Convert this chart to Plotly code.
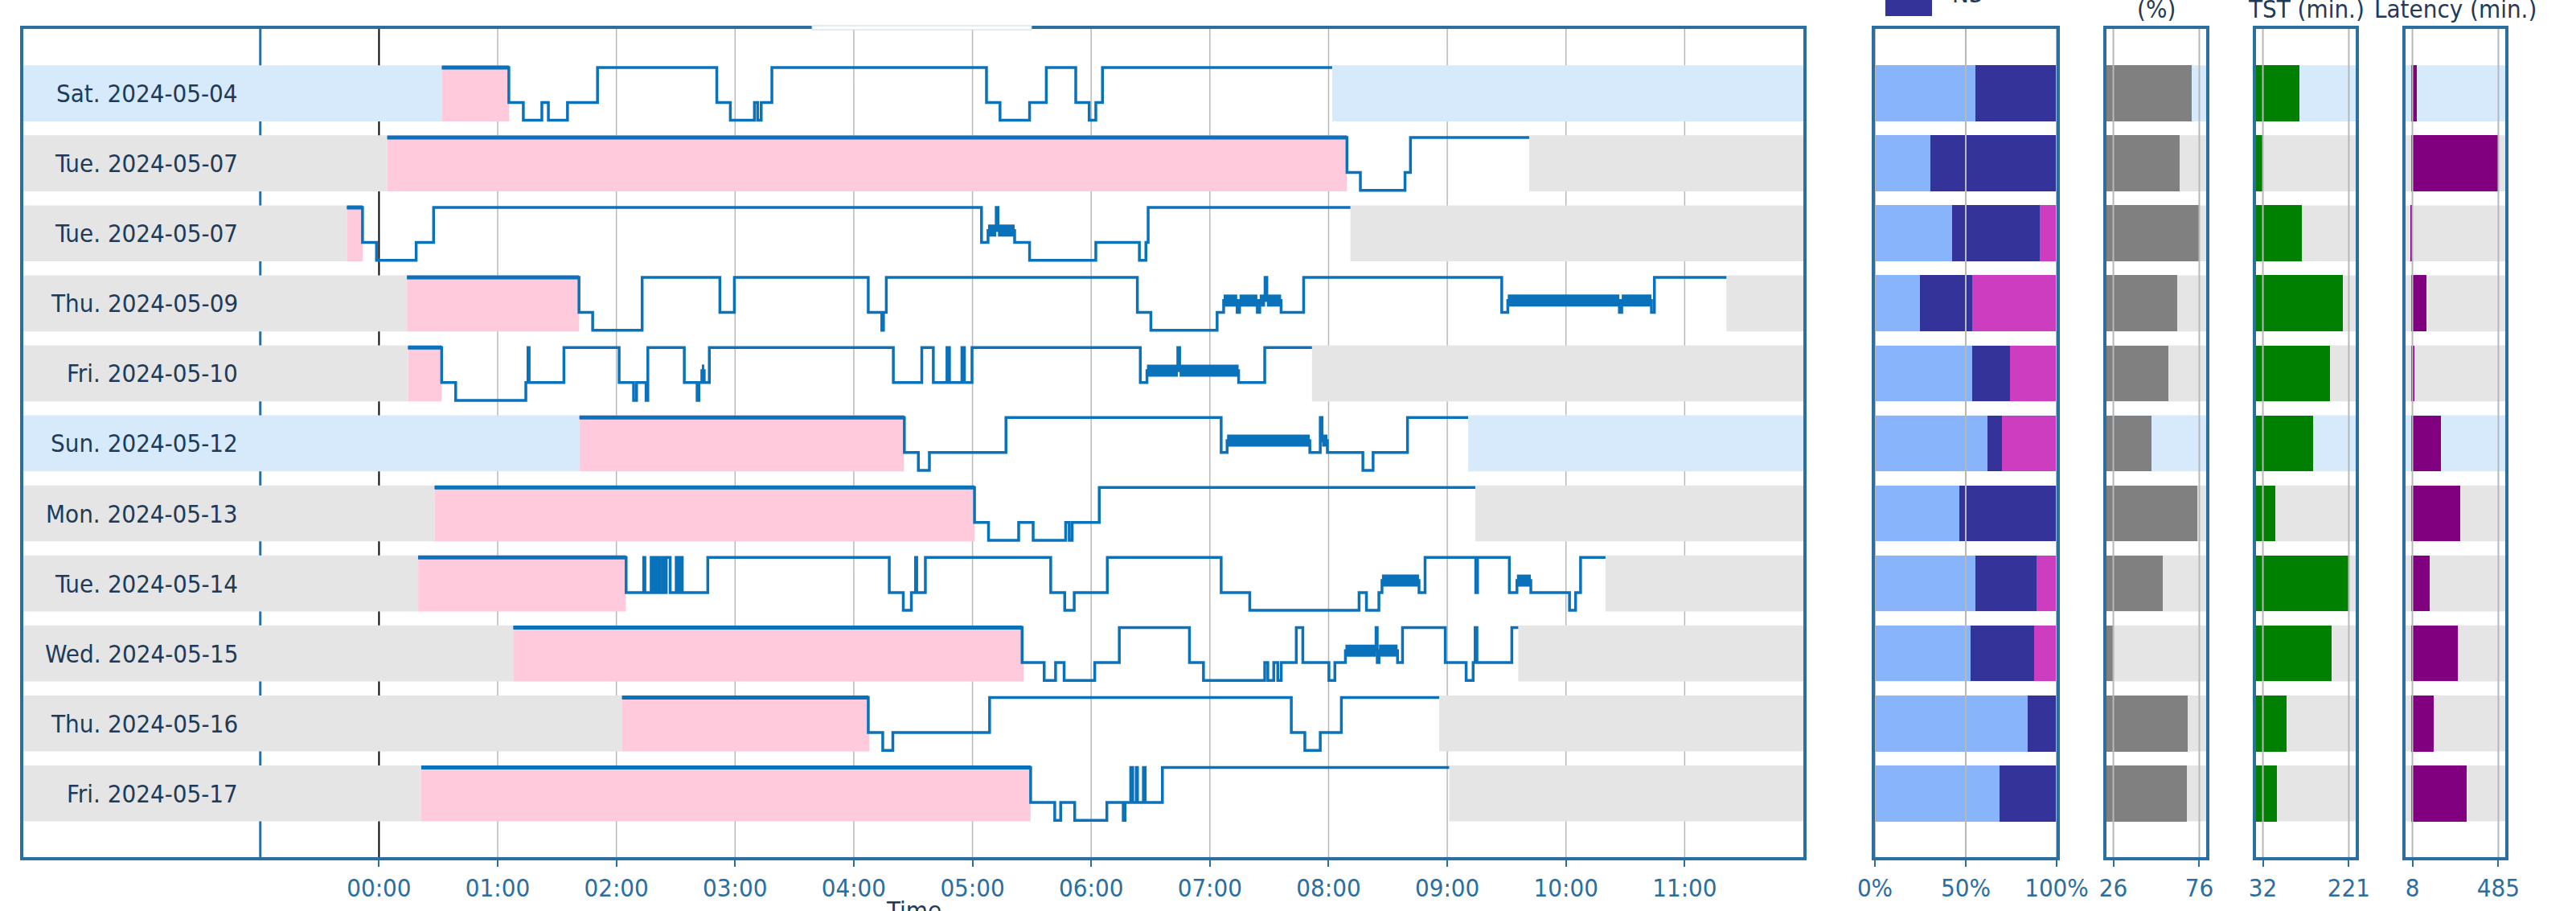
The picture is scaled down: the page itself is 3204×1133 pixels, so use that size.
import plotly.graph_objects as go

# ------------------------------------------------------------------ data
dates = ["Sat. 2024-05-04", "Tue. 2024-05-07", "Tue. 2024-05-07", "Thu. 2024-05-09",
         "Fri. 2024-05-10", "Sun. 2024-05-12", "Mon. 2024-05-13", "Tue. 2024-05-14",
         "Wed. 2024-05-15", "Thu. 2024-05-16", "Fri. 2024-05-17"]
bed_time = [0.53, 0.07, -0.27, 0.236, 0.245, 1.689, 0.469, 0.33, 1.132, 2.048, 0.356]   # hours after 00:00
latency_min = [34, 485, 8, 87, 17, 164, 273, 105, 258, 125, 308]
out_of_bed = [8.03, 9.69, 8.184, 11.352, 7.86, 9.176, 9.236, 10.333, 9.598, 8.932, 9.016]

# hypnogram transitions after going to bed: (hour, stage)  W=wake R=REM L=light D=deep
night_0504 = [(1.094, "L"), (1.216, "D"), (1.372, "L"), (1.427, "D"), (1.588, "L"), (1.841, "W"),
              (2.846, "L"), (2.96, "D"), (3.163, "L"), (3.19, "D"), (3.22, "L"), (3.31, "W"),
              (5.118, "L"), (5.232, "D"), (5.481, "L"), (5.622, "W"), (5.87, "L"), (5.983, "D"),
              (6.039, "L"), (6.095, "W")]
night_0507a = [(8.155, "L"), (8.268, "D"), (8.644, "L"), (8.69, "W")]
night_0507b = [(-0.139, "L"), (-0.021, "D"), (0.313, "L"), (0.46, "W"), (5.076, "L"), (5.131, "R"),
               (5.20, "W"), (5.215, "R"), (5.355, "L"), (5.481, "D"), (6.039, "L"), (6.406, "D"),
               (6.461, "L"), (6.48, "W")]
night_0509 = [(1.685, "L"), (1.80, "D"), (2.217, "W"), (2.872, "L"), (2.994, "W"), (4.122, "L"),
              (4.236, "D"), (4.25, "L"), (4.274, "W"), (6.389, "L"), (6.503, "D"), (7.061, "L"),
              (7.116, "R"), (7.23, "L"), (7.25, "R"), (7.40, "L"), (7.42, "R"), (7.465, "W"),
              (7.48, "R"), (7.60, "L"), (7.79, "W"), (9.459, "L"), (9.51, "R"), (10.45, "L"),
              (10.47, "R"), (10.72, "L"), (10.745, "W")]
night_0510 = [(0.528, "L"), (0.646, "D"), (1.237, "L"), (1.255, "W"), (1.265, "L"), (1.558, "W"),
              (2.023, "L"), (2.145, "D"), (2.17, "L"), (2.25, "D"), (2.265, "W"), (2.572, "L"),
              (2.68, "D"), (2.695, "L"), (2.72, "R"), (2.74, "L"), (2.783, "W"), (4.333, "L"),
              (4.573, "W"), (4.67, "L"), (4.785, "W"), (4.806, "L"), (4.911, "W"), (4.932, "L"),
              (4.996, "W"), (6.414, "L"), (6.47, "R"), (6.73, "W"), (6.745, "R"), (7.242, "L"),
              (7.462, "W")]
night_0512 = [(4.426, "L"), (4.544, "D"), (4.637, "L"), (5.282, "W"), (7.095, "L"), (7.145, "R"),
              (7.842, "L"), (7.93, "W"), (7.945, "R"), (7.99, "L"), (8.289, "D"), (8.375, "L"),
              (8.665, "W")]
night_0513 = [(5.017, "L"), (5.135, "D"), (5.389, "L"), (5.511, "D"), (5.785, "L"), (5.815, "D"),
              (5.84, "L"), (6.068, "W")]
night_0514 = [(2.082, "L"), (2.23, "W"), (2.24, "L"), (2.293, "W"), (2.303, "L"), (2.314, "W"),
              (2.322, "L"), (2.335, "W"), (2.343, "L"), (2.356, "W"), (2.366, "L"), (2.39, "W"),
              (2.40, "L"), (2.42, "W"), (2.453, "L"), (2.504, "W"), (2.525, "L"), (2.54, "W"),
              (2.555, "L"), (2.77, "W"), (4.299, "L"), (4.417, "D"), (4.485, "L"), (4.52, "W"),
              (4.53, "L"), (4.603, "W"), (5.659, "L"), (5.777, "D"), (5.857, "L"), (6.136, "W"),
              (7.095, "L"), (7.336, "D"), (8.257, "L"), (8.319, "D"), (8.424, "L"), (8.45, "R"),
              (8.762, "L"), (8.813, "W"), (9.24, "L"), (9.255, "W"), (9.523, "L"), (9.587, "R"),
              (9.704, "L"), (10.03, "D"), (10.081, "L"), (10.123, "W")]
night_0515 = [(5.418, "L"), (5.604, "D"), (5.70, "L"), (5.772, "D"), (6.03, "L"), (6.237, "W"),
              (6.828, "L"), (6.946, "D"), (7.462, "L"), (7.488, "D"), (7.538, "L"), (7.572, "D"),
              (7.601, "L"), (7.728, "W"), (7.783, "L"), (8.003, "D"), (8.053, "L"), (8.142, "R"),
              (8.40, "W"), (8.41, "L"), (8.425, "R"), (8.581, "L"), (8.623, "W"), (8.983, "L"),
              (9.159, "D"), (9.218, "L"), (9.235, "W"), (9.25, "L"), (9.544, "W")]
night_0516 = [(4.122, "L"), (4.244, "D"), (4.329, "L"), (5.144, "W"), (7.686, "L"), (7.80, "D"),
              (7.93, "L"), (8.108, "W")]
night_0517 = [(5.49, "L"), (5.693, "D"), (5.743, "L"), (5.861, "D"), (6.132, "L"), (6.27, "D"),
              (6.285, "L"), (6.333, "W"), (6.35, "L"), (6.38, "W"), (6.39, "L"), (6.44, "W"),
              (6.455, "L"), (6.6, "W")]

light_pct = [55.2, 30.5, 42.3, 24.6, 53.4, 62.0, 46.6, 55.4, 52.7, 84.2, 68.8]
deep_pct = [44.8, 69.5, 48.3, 28.8, 21.1, 7.7, 53.4, 33.6, 34.7, 15.8, 31.2]
rem_pct = [0.0, 0.0, 9.4, 46.6, 25.5, 30.3, 0.0, 11.0, 12.6, 0.0, 0.0]
efficiency_pct = [71.4, 64.2, 75.8, 63.0, 57.7, 48.1, 74.6, 54.6, 26.0, 69.0, 68.5]
tst_min = [113, 32, 117, 207, 180, 142, 60, 221, 183, 84, 62]

hour_ticks = list(range(12))
hour_labels = ["%02d:00" % h for h in hour_ticks]
pct_ticks = [0, 50, 100]
pct_labels = ["0%", "50%", "100%"]

# ------------------------------------------------------------------ style
W, H = 3204, 1133
FONT = "DejaVu Sans Condensed, DejaVu Sans, sans-serif"
FS = 31
FRAME = "#2a6f9f"
TICK = "#2b6ea0"
DARK = "#1f3b57"
HYP = "#0a72ba"
BAND_WEEKEND = "#d6eafc"
BAND_WEEKDAY = "#e5e5e5"
PINK = "#ffcadc"
GRID = "#b8b8b8"
C_LIGHT, C_DEEP, C_REM = "#88b4fc", "#333399", "#cd3dbf"
LEVEL = {"W": -0.37, "R": -0.04, "L": 0.13, "D": 0.385}
HALF = 0.4
XMIN, XMAX = -3, 12
YR = [10.91, -0.92]

nights = [night_0504, night_0507a, night_0507b, night_0509, night_0510, night_0512,
          night_0513, night_0514, night_0515, night_0516, night_0517]
n = len(dates)
rows = list(range(n))
band_col = [BAND_WEEKEND if d[:3] in ("Sat", "Sun") else BAND_WEEKDAY for d in dates]

fig = go.Figure()
shapes = []
annotations = []

# ------------------------------------------------------------------ main hypnogram panel
for i in rows:
    onset = bed_time[i] + latency_min[i] / 60.0
    for x0, x1 in ((XMIN, bed_time[i]), (out_of_bed[i], XMAX)):
        shapes.append(dict(type="rect", xref="x", yref="y", x0=x0, x1=x1, y0=i - HALF, y1=i + HALF,
                           fillcolor=band_col[i], line=dict(width=0), layer="below"))
    shapes.append(dict(type="rect", xref="x", yref="y", x0=bed_time[i], x1=onset,
                       y0=i - HALF, y1=i + HALF, fillcolor=PINK, line=dict(width=0), layer="below"))
    night = nights[i]
    xs = [bed_time[i]] + [t for t, _ in night] + [out_of_bed[i]]
    ys = [i + LEVEL["W"]] + [i + LEVEL[s] for _, s in night]
    ys.append(ys[-1])
    fig.add_trace(go.Scatter(x=xs, y=ys, mode="lines", line=dict(color=HYP, width=3.5, shape="hv"),
                             xaxis="x", yaxis="y", showlegend=False, hoverinfo="skip"))
    # latency segment (slightly heavier)
    fig.add_trace(go.Scatter(x=[bed_time[i], night[0][0]], y=[i + LEVEL["W"]] * 2, mode="lines",
                             line=dict(color=HYP, width=5), xaxis="x", yaxis="y",
                             showlegend=False, hoverinfo="skip"))
    # REM drawn as thick bars
    rx, ry = [], []
    for k, (t, s) in enumerate(night):
        if s == "R":
            t_end = night[k + 1][0] if k + 1 < len(night) else out_of_bed[i]
            rx += [t, t_end, None]
            ry += [i + LEVEL["R"], i + LEVEL["R"], None]
    if rx:
        fig.add_trace(go.Scatter(x=rx, y=ry, mode="lines", line=dict(color=HYP, width=15),
                                 xaxis="x", yaxis="y", showlegend=False, hoverinfo="skip"))
    annotations.append(dict(x=-1, y=i, xref="x", yref="y", text=dates[i], showarrow=False,
                            xanchor="right", xshift=-26, font=dict(size=FS, color=DARK)))

# hour grid lines (drawn over the bands, under the hypnograms)
for h in hour_ticks:
    shapes.append(dict(type="line", xref="x", yref="y domain", x0=h, x1=h, y0=0, y1=1,
                       line=dict(color="black" if h == 0 else GRID, width=2 if h == 0 else 1.5),
                       layer="below"))
shapes.append(dict(type="line", xref="x", yref="y domain", x0=-1, x1=-1, y0=0, y1=1,
                   line=dict(color=FRAME, width=3), layer="below"))

# ------------------------------------------------------------------ right panels
def padded(vals, p=0.08):
    lo, hi = min(vals), max(vals)
    s = hi - lo
    return [lo - p * s, hi + p * s]

panels = [
    ("x2", "y2", [0, 100], pct_ticks, pct_labels),
    ("x3", "y3", padded(efficiency_pct), [min(efficiency_pct), max(efficiency_pct)],
     ["%d" % round(min(efficiency_pct)), "%d" % round(max(efficiency_pct))]),
    ("x4", "y4", padded(tst_min), [min(tst_min), max(tst_min)],
     ["%d" % min(tst_min), "%d" % max(tst_min)]),
    ("x5", "y5", padded(latency_min), [min(latency_min), max(latency_min)],
     ["%d" % min(latency_min), "%d" % max(latency_min)]),
]

for xa, ya, rng, tv, tt in panels:
    for i in rows:
        shapes.append(dict(type="rect", xref=xa + " domain", yref=ya, x0=0, x1=1,
                           y0=i - HALF, y1=i + HALF, fillcolor=band_col[i],
                           line=dict(width=0), layer="below"))
    for v in tv:
        shapes.append(dict(type="line", xref=xa, yref=ya + " domain", x0=v, x1=v, y0=0, y1=1,
                           line=dict(color=GRID, width=2), layer="above"))

for name, vals, col in (("N1/N2", light_pct, C_LIGHT), ("N3", deep_pct, C_DEEP), ("REM", rem_pct, C_REM)):
    fig.add_trace(go.Bar(y=rows, x=vals, orientation="h", width=0.8, marker=dict(color=col, line=dict(width=0)),
                         xaxis="x2", yaxis="y2", name=name, showlegend=False, hoverinfo="skip"))
fig.add_trace(go.Bar(y=rows, x=efficiency_pct, orientation="h", width=0.8,
                     marker=dict(color="#808080", line=dict(width=0)), xaxis="x3", yaxis="y3",
                     showlegend=False, hoverinfo="skip"))
fig.add_trace(go.Bar(y=rows, x=tst_min, orientation="h", width=0.8,
                     marker=dict(color="#008000", line=dict(width=0)), xaxis="x4", yaxis="y4",
                     showlegend=False, hoverinfo="skip"))
fig.add_trace(go.Bar(y=rows, x=latency_min, orientation="h", width=0.8,
                     marker=dict(color="#800080", line=dict(width=0)), xaxis="x5", yaxis="y5",
                     showlegend=False, hoverinfo="skip"))

# ------------------------------------------------------------------ titles / legend fragments
def px(x):
    return x / W

top_px, bot_px = 36, 1066
def py(y):
    return (bot_px - y) / (bot_px - top_px)

for xc, txt in ((2682, "(%)"), (2868, "TST (min.)"), (3054, "Latency (min.)")):
    annotations.append(dict(x=px(xc), y=1, xref="paper", yref="paper", text=txt, showarrow=False,
                            xanchor="center", yanchor="bottom", yshift=5,
                            font=dict(size=FS, color=DARK)))
shapes.append(dict(type="rect", xref="paper", yref="paper", x0=px(2345), x1=px(2403),
                   y0=py(20), y1=py(-20), fillcolor=C_DEEP, line=dict(width=0), layer="above"))
annotations.append(dict(x=px(2426), y=py(12), xref="paper", yref="paper", text="N3", showarrow=False,
                        xanchor="left", yanchor="bottom", font=dict(size=FS, color=DARK)))
shapes.append(dict(type="rect", xref="paper", yref="paper", x0=px(1010), x1=px(1283),
                   y0=py(37), y1=py(32), fillcolor="white", line=dict(color="#c6d6e6", width=1),
                   layer="above"))
# x-axis title of the main panel (sits partly below the picture edge, as in the original)
annotations.append(dict(x=px(1136), y=py(1112), xref="paper", yref="paper", text="Time",
                        showarrow=False, xanchor="center", yanchor="top",
                        font=dict(size=FS, color=DARK)))

# ------------------------------------------------------------------ axes
def xax(dom, rng, tv, tt, anchor):
    return dict(domain=[px(dom[0]), px(dom[1])], range=rng, tickvals=tv, ticktext=tt, anchor=anchor,
                showgrid=False, zeroline=False,
                showline=True, mirror=True, linewidth=4, linecolor=FRAME,
                ticks="outside", ticklen=8, tickwidth=2, tickcolor=FRAME,
                tickfont=dict(size=FS, color=TICK))

def yax(anchor):
    return dict(domain=[0, 1], range=YR, anchor=anchor, showticklabels=False, showgrid=False,
                zeroline=False, showline=True, mirror=True, linewidth=4, linecolor=FRAME, ticks="")

fig.update_layout(
    width=W, height=H,
    margin=dict(l=0, r=0, t=top_px, b=H - bot_px, autoexpand=False),
    paper_bgcolor="white", plot_bgcolor="white",
    font=dict(family=FONT, size=FS, color=DARK),
    barmode="stack", bargap=0.2,
    showlegend=False,
    xaxis=xax((28.5, 2243), [XMIN, XMAX], hour_ticks, hour_labels, "y"),
    yaxis=yax("x"),
    xaxis2=xax((2332, 2558), panels[0][2], panels[0][3], panels[0][4], "y2"),
    yaxis2=yax("x2"),
    xaxis3=xax((2620, 2744), panels[1][2], panels[1][3], panels[1][4], "y3"),
    yaxis3=yax("x3"),
    xaxis4=xax((2806, 2930), panels[2][2], panels[2][3], panels[2][4], "y4"),
    yaxis4=yax("x4"),
    xaxis5=xax((2992, 3116), panels[3][2], panels[3][3], panels[3][4], "y5"),
    yaxis5=yax("x5"),
    shapes=shapes,
    annotations=annotations,
)

fig.write_html("out.html", config={"displayModeBar": False},
               post_script="document.body.style.margin='0';document.body.style.overflow='hidden';")
